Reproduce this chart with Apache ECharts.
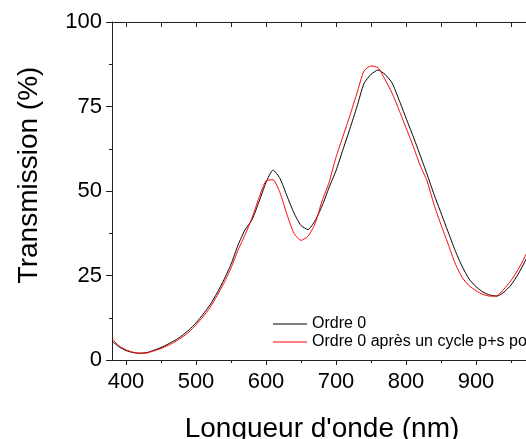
<!DOCTYPE html>
<html>
<head>
<meta charset="utf-8">
<script src="https://cdn.jsdelivr.net/npm/echarts@6/dist/echarts.min.js"></script>
<style>
html,body{margin:0;padding:0;overflow:hidden;background:#fff;}
#chart{width:560px;height:439px;}
</style>
</head>
<body>
<div id="chart"></div>
<script>
// Wavelengths (nm)
const wavelengths = [380,390,400,410,420,430,440,450,460,470,480,490,500,510,520,530,540,550,560,570,580,590,600,610,620,630,640,650,660,670,680,690,700,710,720,730,740,750,760,770,780,790,800,810,820,830,840,850,860,870,880,890,900,910,920,930,940,950,960,970,980,990,1000];
// Transmission (%) - Ordre 0
const ordre0 = [5.6,3.9,2.8,2.2,2.0,2.2,2.9,3.7,4.7,5.8,7.2,8.9,11.0,13.5,16.3,19.8,23.8,28.3,34.0,38.5,41.5,46.8,52.5,56.2,53.7,48.5,43.5,39.8,38.6,41.2,45.5,51.0,56.0,62.3,68.5,75.0,81.8,84.5,85.8,84.5,82.0,77.0,71.6,66.3,60.7,55.0,49.0,43.5,38.0,32.5,27.8,24.0,21.7,20.1,19.2,18.9,20.1,22.2,25.3,29.2,33.0,37.0,41.0];
// Transmission (%) - Ordre 0 après un cycle p+s
const ordre0Cycle = [6.3,4.2,3.0,2.3,2.0,2.1,2.7,3.4,4.3,5.4,6.7,8.3,10.4,12.8,15.5,19.0,22.8,27.2,32.5,37.0,42.0,48.0,53.0,53.3,49.5,43.0,37.5,35.4,36.6,40.3,47.0,52.5,60.0,66.2,72.4,79.0,85.5,87.0,86.5,83.0,79.0,74.0,68.7,63.4,57.7,53.0,46.0,40.0,34.4,28.7,24.5,22.0,20.5,19.4,18.9,19.0,21.0,23.5,26.7,30.6,35.0,39.0,43.0];
const seriesNames = ['Ordre 0', 'Ordre 0 après un cycle p+s polarisé'];
const xMajorTicks = [400,500,600,700,800,900];
const xMinorTicks = [450,550,650,750,850,950];
const xAllTicks = [400,450,500,550,600,650,700,750,800,850,900,950];
const yTitle = 'Transmission (%)';
const xTitle = "Longueur d'onde (nm)";

const font = 'Liberation Sans, Arial, sans-serif';
const axisColor = '#222';
const chart = echarts.init(document.getElementById('chart'));
const xMin = 380, xMax = 980;
const mkGrid = () => ({left: 112, right: 28, top: 22, bottom: 79, containLabel: false, outerBoundsMode: 'none'});

chart.setOption({
  animation: false,
  backgroundColor: '#fff',
  grid: [mkGrid(), mkGrid(), mkGrid()],
  legend: {
    left: 273, top: 316, orient: 'vertical', padding: 0,
    icon: 'rect', itemWidth: 34, itemHeight: 1, itemGap: 2,
    textStyle: {fontFamily: font, fontSize: 16, lineHeight: 16, color: '#000'},
    data: seriesNames.map(n => ({name: n}))
  },
  graphic: [{
    type: 'text', x: 29, y: 175, rotation: Math.PI / 2,
    style: {text: yTitle, font: '28px ' + font, fill: '#000', align: 'center', verticalAlign: 'middle'}
  }],
  xAxis: [
    {
      type: 'value', gridIndex: 0, min: xMin, max: xMax, position: 'bottom',
      name: xTitle, nameLocation: 'middle', nameGap: 55,
      nameTextStyle: {fontFamily: font, fontSize: 28, color: '#000'},
      axisLine: {show: true, onZero: false, lineStyle: {color: axisColor, width: 1}},
      axisTick: {show: true, inside: false, length: 5, customValues: xMajorTicks, lineStyle: {color: axisColor}},
      axisLabel: {show: true, customValues: xMajorTicks, fontFamily: font, fontSize: 22, color: '#000', margin: 11},
      splitLine: {show: false}
    },
    {
      type: 'value', gridIndex: 1, min: xMin, max: xMax, position: 'bottom',
      axisLine: {show: true, onZero: false, lineStyle: {color: axisColor, width: 1}},
      axisTick: {show: true, inside: false, length: 3, customValues: xMinorTicks, lineStyle: {color: axisColor}},
      axisLabel: {show: false},
      splitLine: {show: false}
    },
    {
      type: 'value', gridIndex: 2, min: xMin, max: xMax, position: 'top',
      axisLine: {show: true, onZero: false, lineStyle: {color: axisColor, width: 1}},
      axisTick: {show: true, inside: true, length: 5, customValues: xAllTicks, lineStyle: {color: axisColor}},
      axisLabel: {show: false},
      splitLine: {show: false}
    }
  ],
  yAxis: [
    {
      type: 'value', gridIndex: 0, min: 0, max: 100, interval: 25,
      axisLine: {show: true, onZero: false, lineStyle: {color: axisColor, width: 1}},
      axisTick: {show: true, inside: false, length: 6, lineStyle: {color: axisColor}},
      minorTick: {show: true, splitNumber: 2, length: 3, lineStyle: {color: axisColor}},
      axisLabel: {fontFamily: font, fontSize: 22, color: '#000', margin: 10},
      splitLine: {show: false}
    },
    {type: 'value', gridIndex: 1, min: 0, max: 100, show: false, splitLine: {show: false}},
    {type: 'value', gridIndex: 2, min: 0, max: 100, show: false, splitLine: {show: false}}
  ],
  series: [
    {
      name: seriesNames[0], type: 'line', xAxisIndex: 1, yAxisIndex: 1,
      data: wavelengths.map((w, i) => [w, ordre0[i]]),
      symbol: 'none', smooth: 0.2, lineStyle: {color: '#000', width: 1}, itemStyle: {color: '#000'}
    },
    {
      name: seriesNames[1], type: 'line', xAxisIndex: 2, yAxisIndex: 2,
      data: wavelengths.map((w, i) => [w, ordre0Cycle[i]]),
      symbol: 'none', smooth: 0.2, lineStyle: {color: '#ff0000', width: 1}, itemStyle: {color: '#ff0000'}
    }
  ]
});
</script>
</body>
</html>
